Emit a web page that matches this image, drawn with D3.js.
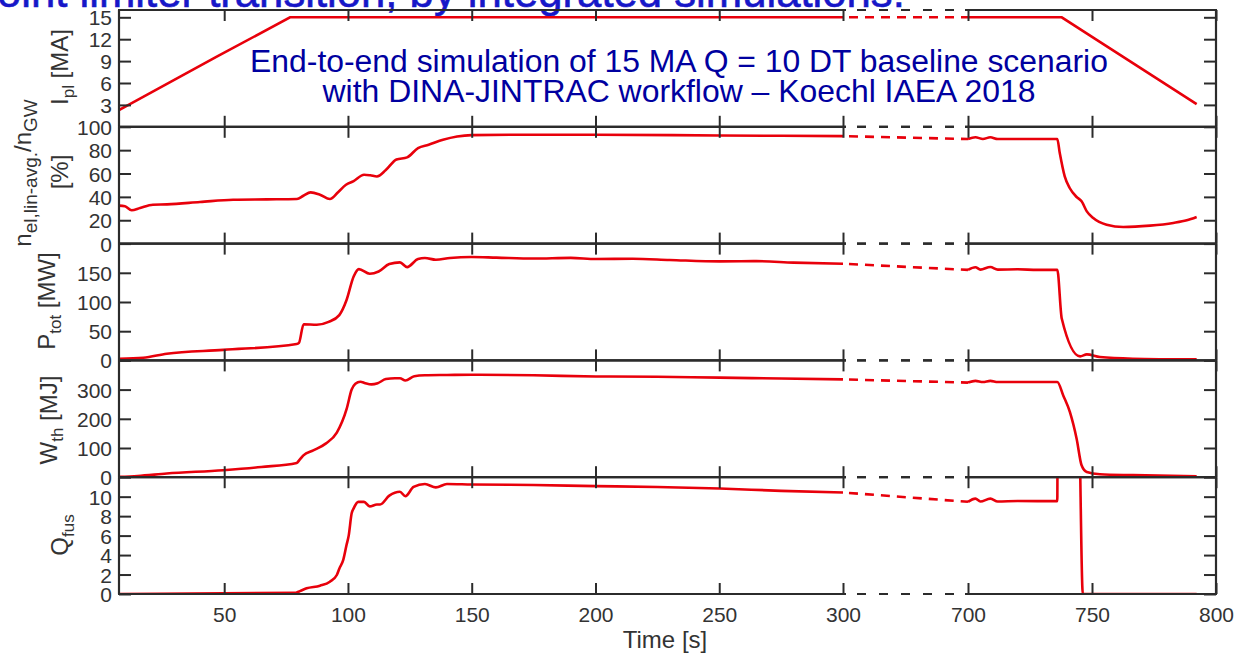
<!DOCTYPE html>
<html><head><meta charset="utf-8">
<script src="https://cdn.jsdelivr.net/npm/d3@7"></script>
<style>body{margin:0;background:#fff;overflow:hidden} text{font-family:"Liberation Sans",Arial,Helvetica,sans-serif}</style>
</head><body><svg id="c" width="1236" height="654"></svg>
<script>
// ---------- data ----------
const xTicksLeft = [50, 100, 150, 200, 250, 300];
const xTicksRight = [700, 750, 800];

const ipTicks = [3, 6, 9, 12, 15];
const ipLeft = [[7.5,2.3],[11.9,3.1],[47,9.6],[76.6,15],[150,15],[300,15]];
const ipRight = [[700,15],[737.8,15],[751.9,11.9],[792.2,3.1]];

const neTicks = [0, 20, 40, 60, 80, 100];
const neLeft = [[7.5,32.5],[9.9,32],[12.6,28.5],[16,30.5],[21.2,33.3],[26.9,33.6],[40.2,35.6],[53.6,37.6],[67.3,37.9],[79.4,38.2],
  [82,41],[84.9,43.9],[88.7,41.9],[92.7,38.2],[96,44],[99.2,50.4],[102.3,53.5],[106.5,59],[109,58.5],[111.7,57.5],[115.3,63],
  [119.6,72],[123.9,73.8],[128.3,81.8],[132.6,84.6],[138.4,88.9],[144.1,91.7],[149.9,92.9],[167.1,93.2],[200.2,93.2],[250.2,92.6],[300,92]];
const neRight = [[700,89.5],[703,91],[706,89.6],[709,91],[712,89.5],[736,89.5],[737,77.5],[739,57.5],[741,47.6],[743.8,39.9],
  [745.8,36.2],[747.9,27.6],[750.5,21.9],[755.9,16.2],[762.6,14.2],[773.4,15.4],[782.8,17.7],[788.2,19.9],[792.2,22.8]];

const ptTicks = [0, 50, 100, 150];
const ptLeft = [[7.5,2.9],[17.3,4.6],[26.8,11.5],[49.6,18],[79.3,28],[80.2,30],[82.1,62],[87.4,61],[92.2,66],[96.5,77.6],
  [99.4,103],[102.3,143.7],[104.4,156.3],[108.8,148.3],[112.4,152.3],[116.7,165],[121,167.8],[123.9,159.8],[128.3,173.6],
  [131.1,175.3],[135.5,172.4],[141.2,175.3],[149.9,177],[160,176],[175,174.5],[190,175.5],[200.2,173.6],[215,174],
  [230,172],[250.2,169.5],[265,170],[280,167.5],[300,165.5]];
const ptRight = [[700,155],[703,159.5],[705,155.5],[709,160],[712,155.5],[720,156],[728,155],[736,155],[737.8,71.8],
  [745.2,6.9],[747.9,10.3],[753.2,5.7],[766.5,2.9],[792.2,1.7]];

const wTicks = [0, 100, 200, 300];
const wLeft = [[7.5,1],[15,4],[26.8,12.5],[49.6,24],[65,35],[79.3,49],[80.5,60],[82,75],[86,92],[91,115],[95.5,153],
  [99.5,235],[101.5,300],[103,320],[105,327],[107,322],[109.5,318],[112,322],[115.3,336],[119,339],[121,339],[123.2,331],
  [126.8,346],[131.1,349],[140,350],[149.9,351],[175,349],[200.2,345],[225,344],[250.2,341],[275,338],[300,335]];
const wRight = [[700,324],[703,330],[706,326],[709,330],[712,326],[736,326],[738.4,280],[741.1,223],[743.8,132],
  [745.8,41],[747.9,18],[753.2,10],[766.5,7],[792.2,3.4]];

const qTicks = [0, 2, 4, 6, 8, 10];
const qLeft = [[7.5,0],[79,0.13],[80.6,0.3],[83.3,0.58],[88.7,0.85],[92.7,1.26],[95.5,1.95],[96.5,2.6],[98.1,3.5],[99.4,5],
  [100.3,6],[101.5,8.3],[102.3,8.8],[104.2,9.47],[106.5,9.47],[108.8,9.0],[111.7,9.2],[113,9.2],[116.7,10.1],[121,10.5],
  [123.2,10.05],[126.5,11],[131.1,11.3],[135.5,10.95],[140,11.3],[149.9,11.25],[175,11.2],[200.2,11.08],[225,11],
  [250.2,10.84],[275,10.6],[300,10.43]];
const qRight = [[700,9.47],[703,9.8],[705,9.5],[709,9.8],[712,9.5],[720,9.55],[736,9.54],[736.2,20],[744.5,20],[746.3,0],[792.2,0]];

const subtitleLines = ["End-to-end simulation of 15 MA Q = 10 DT baseline scenario",
                       "with DINA-JINTRAC workflow \u2013 Koechl IAEA 2018"];
const slideTitle = "oint limiter transition, by integrated simulations:";
const xLabel = "Time [s]";

// ---------- layout ----------
const svg = d3.select("#c");
const plotL = 119, plotR = 1216, top0 = 10, panelH = 116.8;
const x = d3.scaleLinear().domain([7.5, 300, 700, 800]).range([plotL, 843, 968, plotR]);
const axisCol = "#2b2b2b", red = "#e8000b";
const xTicksAll = xTicksLeft.concat(xTicksRight);

const panels = [
  {left: ipLeft, right: ipRight, domain: [0, 16], ticks: ipTicks, curve: d3.curveLinear},
  {left: neLeft, right: neRight, domain: [0, 100], ticks: neTicks, curve: d3.curveMonotoneX},
  {left: ptLeft, right: ptRight, domain: [0, 200], ticks: ptTicks, curve: d3.curveMonotoneX},
  {left: wLeft, right: wRight, domain: [0, 400], ticks: wTicks, curve: d3.curveMonotoneX},
  {left: qLeft, right: qRight, domain: [0, 12], ticks: qTicks, curve: d3.curveMonotoneX}
];

// slide title (cut at top)
const st = svg.append("text").attr("x", -3).attr("y", 7).attr("font-size", 40)
  .attr("fill", "#1717c8").attr("stroke", "#1717c8").attr("stroke-width", 0.6).text(slideTitle);
st.attr("font-size", 40 * 908 / st.node().getComputedTextLength());

const gapA = x(300), gapB = x(700);

panels.forEach((p, i) => {
  const y0 = top0 + i * panelH, y1 = y0 + panelH;
  const y = d3.scaleLinear().domain(p.domain).range([y1, y0]);
  const g = svg.append("g");
  const cid = "clip" + i;
  svg.append("clipPath").attr("id", cid).append("rect")
    .attr("x", plotL).attr("y", y0).attr("width", plotR - plotL).attr("height", panelH);

  const line = d3.line().x(d => x(d[0])).y(d => y(d[1])).curve(p.curve);
  const dl = g.append("g").attr("clip-path", `url(#${cid})`);
  dl.append("path").attr("d", line(p.left)).attr("fill", "none").attr("stroke", red).attr("stroke-width", 2.6);
  dl.append("path").attr("d", line(p.right)).attr("fill", "none").attr("stroke", red).attr("stroke-width", 2.6);
  dl.append("path").attr("d", d3.line().x(d => x(d[0])).y(d => y(d[1]))([p.left[p.left.length - 1], p.right[0]]))
    .attr("fill", "none").attr("stroke", red).attr("stroke-width", 2.6).attr("stroke-dasharray", "9,7")
    .attr("stroke-dashoffset", -6);

  const axT = g.append("g").attr("transform", `translate(0,${y0})`)
    .call(d3.axisTop(x).tickValues(xTicksAll).tickSize(-11).tickFormat(""));
  const last = i === panels.length - 1;
  const axB = g.append("g").attr("transform", `translate(0,${y1})`)
    .call(d3.axisBottom(x).tickValues(xTicksAll).tickSize(-11).tickPadding(13)
      .tickFormat(last ? d3.format("d") : ""));
  const axL = g.append("g").attr("transform", `translate(${plotL},0)`)
    .call(d3.axisLeft(y).tickValues(p.ticks).tickSize(-12).tickPadding(7).tickFormat(d3.format("d")));
  const axR = g.append("g").attr("transform", `translate(${plotR},0)`)
    .call(d3.axisRight(y).tickValues(p.ticks).tickSize(-12).tickFormat(""));
  [axT, axB, axL, axR].forEach(a => {
    a.select(".domain").remove();
    a.selectAll("line").attr("stroke", axisCol).attr("stroke-width", 2);
    a.selectAll("text").attr("font-size", 21).attr("fill", "#333")
      .style("font-family", '"Liberation Sans",Arial,Helvetica,sans-serif');
  });
  axL.selectAll("text").attr("dy", "0.36em");

  const b = g.append("g").attr("stroke", axisCol).attr("stroke-width", 2.2).attr("fill", "none");
  b.append("line").attr("x1", plotL).attr("x2", plotL).attr("y1", y0).attr("y2", y1);
  b.append("line").attr("x1", plotR).attr("x2", plotR).attr("y1", y0).attr("y2", y1);
  [y0, y1].forEach(yy => {
    b.append("line").attr("x1", plotL - 1).attr("x2", gapA + 3).attr("y1", yy).attr("y2", yy);
    b.append("line").attr("x1", gapB - 3).attr("x2", plotR + 1).attr("y1", yy).attr("y2", yy);
    b.append("line").attr("x1", gapA + 14).attr("x2", gapB - 3).attr("y1", yy).attr("y2", yy)
      .attr("stroke-dasharray", "9,13");
  });
});

// y labels
function ylabel(xp, yc, parts, fs, sfs) {
  const t = svg.append("text").attr("transform", `translate(${xp},${yc}) rotate(-90)`)
    .attr("text-anchor", "middle").attr("font-size", fs).attr("fill", "#333");
  let shifted = 0;
  parts.forEach(([s, sub]) => {
    const ts = t.append("tspan").text(s);
    if (sub) { ts.attr("font-size", sfs).attr("dy", 6 - shifted); shifted = 6; }
    else { ts.attr("dy", -shifted); shifted = 0; }
  });
}
ylabel(68, 67, [["I"], ["pl", 1], [" [MA]"]], 24, 17);
ylabel(31, 173, [["n"], ["el,lin-avg.", 1], ["/n"], ["GW", 1]], 24, 19);
ylabel(68, 172, [["[%]"]], 24, 17);
ylabel(55, 301, [["P"], ["tot", 1], [" [MW]"]], 24, 17);
ylabel(57, 420, [["W"], ["th", 1], [" [MJ]"]], 24, 17);
ylabel(68, 535, [["Q"], ["fus", 1]], 24, 17);

svg.append("text").attr("x", 665).attr("y", 648).attr("text-anchor", "middle").attr("font-size", 24)
  .attr("fill", "#333").text(xLabel);

// subtitle
subtitleLines.forEach((s, k) => {
  const t = svg.append("text").attr("x", 679).attr("y", 72 + 30 * k).attr("text-anchor", "middle")
    .attr("font-size", 100).attr("fill", "#0000a0").text(s);
  const target = k === 0 ? 858 : 713;
  const len = t.node().getComputedTextLength();
  t.attr("font-size", 100 * target / len);
});
</script></body></html>
